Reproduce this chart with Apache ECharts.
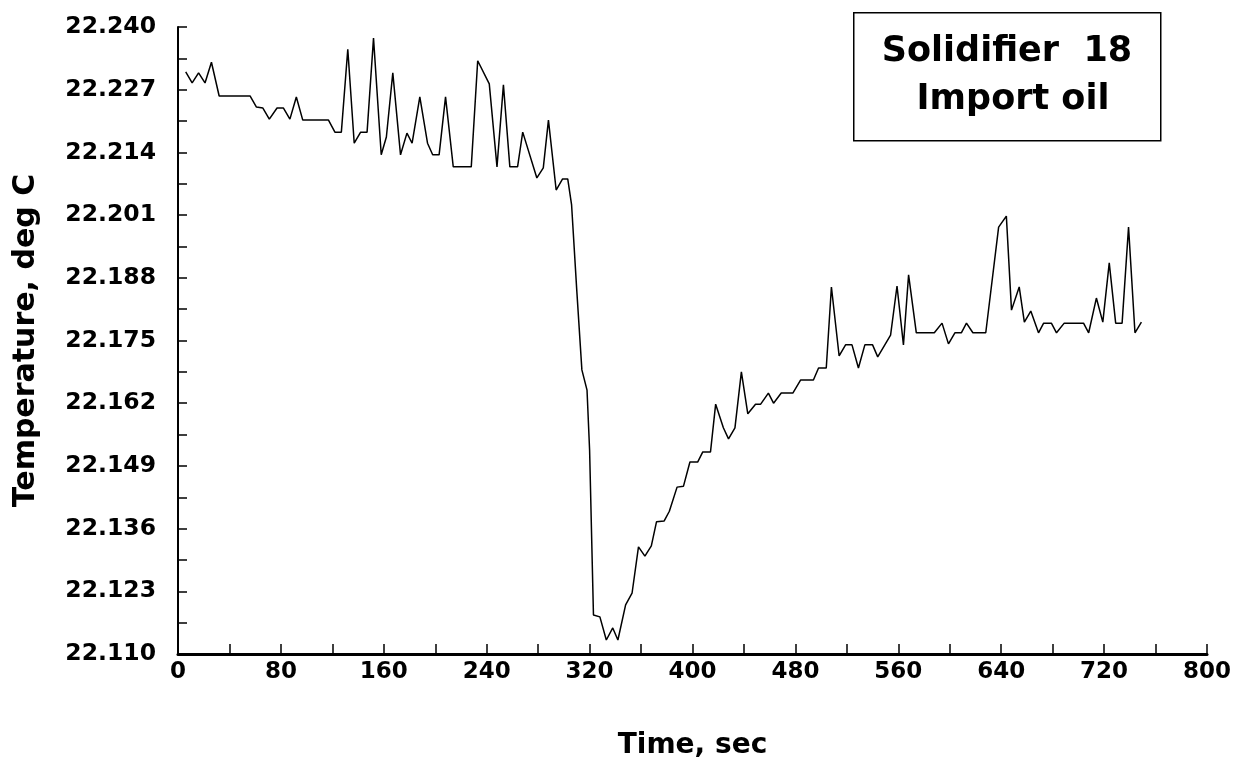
<!DOCTYPE html>
<html>
<head>
<meta charset="utf-8">
<script src="https://cdn.jsdelivr.net/npm/echarts@6/dist/echarts.min.js"></script>
<style>
html,body{margin:0;padding:0;background:#fff;}
#chart{width:1244px;height:770px;}
</style>
</head>
<body>
<div id="chart"></div>
<script>
// Time (s) and temperature (deg C)
var times = [6,11,16,21,26,32,56,61,66,71,77,82,87,92,97,117,122,127,132,137,142,147,152,158,162,167,173,178,182,188,194,198,203,208,214,228,233,242,248,253,258,264,268,279,284,288,294,299,303,306,310,314,318,320,323,328,333,338,342,348,353,358,363,368,372,378,382,388,393,398,404,408,414,418,424,428,433,438,443,449,453,459,463,469,478,484,494,498,504,508,514,519,524,529,534,540,544,554,559,564,568,574,588,594,599,604,609,613,618,628,638,644,648,654,658,663,669,673,679,683,689,704,708,714,719,724,729,734,739,744,749];
var temps = [22.2307,22.2284,22.2305,22.2284,22.2327,22.2257,22.2257,22.2234,22.2232,22.2209,22.2232,22.2232,22.2209,22.2255,22.2207,22.2207,22.2182,22.2182,22.2354,22.2159,22.2182,22.2182,22.2377,22.2135,22.2172,22.2305,22.2135,22.2180,22.2159,22.2255,22.2159,22.2135,22.2135,22.2255,22.2110,22.2110,22.2330,22.2282,22.2110,22.2280,22.2110,22.2110,22.2182,22.2087,22.2108,22.2207,22.2062,22.2085,22.2085,22.2031,22.1855,22.1689,22.1647,22.1523,22.1181,22.1177,22.1129,22.1154,22.1129,22.1202,22.1226,22.1322,22.1303,22.1324,22.1374,22.1376,22.1396,22.1446,22.1448,22.1498,22.1498,22.1519,22.1519,22.1618,22.1569,22.1546,22.1569,22.1685,22.1598,22.1618,22.1618,22.1641,22.1620,22.1641,22.1641,22.1668,22.1668,22.1693,22.1693,22.1861,22.1718,22.1741,22.1741,22.1693,22.1741,22.1741,22.1716,22.1761,22.1863,22.1741,22.1886,22.1766,22.1766,22.1786,22.1743,22.1766,22.1766,22.1786,22.1766,22.1766,22.1985,22.2008,22.1813,22.1861,22.1788,22.1811,22.1766,22.1786,22.1786,22.1766,22.1786,22.1786,22.1766,22.1838,22.1788,22.1911,22.1786,22.1786,22.1985,22.1766,22.1788];
var xTicks = [0,80,160,240,320,400,480,560,640,720,800];
var yBase = 22.110;   // bottom tick label value
var yStep = 0.013;    // tick label step
var yCount = 10;      // number of steps
var legendLines = ['Solidifier  18', 'Import oil'];
var xName = 'Time, sec';
var yName = 'Temperature, deg C';

// y plotted in thousandths above yBase so ticks start at 0
var seriesData = times.map(function (t, i) {
  return [t, Math.round((temps[i] - yBase) * 10000) / 10];
});

var FONT = 'DejaVu Sans';
var chart = echarts.init(document.getElementById('chart'));
chart.setOption({
  backgroundColor: '#ffffff',
  animation: false,
  grid: { left: 178, right: 37, top: 27, bottom: 116, containLabel: false },
  xAxis: {
    type: 'value',
    min: xTicks[0], max: xTicks[xTicks.length - 1], interval: xTicks[1] - xTicks[0],
    name: xName, nameLocation: 'middle', nameGap: 78,
    nameTextStyle: { fontFamily: FONT, fontWeight: 'bold', fontSize: 28, color: '#000' },
    axisLine: { show: true, lineStyle: { color: '#000', width: 3 } },
    axisTick: { show: true, inside: true, length: 10, lineStyle: { color: '#000', width: 1.5 } },
    minorTick: { show: true, splitNumber: 2, length: 10, lineStyle: { color: '#000', width: 1.5 } },
    axisLabel: { margin: 7, fontFamily: FONT, fontWeight: 'bold', fontSize: 23, color: '#000' },
    splitLine: { show: false }
  },
  yAxis: {
    type: 'value',
    min: 0, max: yCount * yStep * 1000, interval: yStep * 1000,
    name: yName, nameLocation: 'middle', nameGap: 137, nameRotate: 90,
    nameTextStyle: { fontFamily: FONT, fontWeight: 'bold', fontSize: 30, color: '#000' },
    axisLine: { show: true, lineStyle: { color: '#000', width: 2 } },
    axisTick: { show: true, inside: true, length: 9, lineStyle: { color: '#000', width: 1.5 } },
    minorTick: { show: true, splitNumber: 2, length: 9, lineStyle: { color: '#000', width: 1.5 } },
    axisLabel: {
      margin: 22, fontFamily: FONT, fontWeight: 'bold', fontSize: 23.5, color: '#000',
      formatter: function (v) { return (yBase + v / 1000).toFixed(3); }
    },
    splitLine: { show: false }
  },
  series: [{
    type: 'line',
    data: seriesData,
    showSymbol: false,
    lineStyle: { color: '#000', width: 1.5 },
    itemStyle: { color: '#000' }
  }],
  graphic: [
    { type: 'rect', left: 853, top: 12, shape: { width: 307, height: 128 },
      style: { fill: '#fff', stroke: '#000', lineWidth: 1.5 } },
    { type: 'text', x: 1007, y: 52,
      style: { text: legendLines[0], fontFamily: FONT, fontWeight: 'bold', fontSize: 35, fill: '#000', align: 'center', verticalAlign: 'middle' } },
    { type: 'text', x: 1013, y: 100,
      style: { text: legendLines[1], fontFamily: FONT, fontWeight: 'bold', fontSize: 35, fill: '#000', align: 'center', verticalAlign: 'middle' } }
  ]
});
</script>
</body>
</html>
